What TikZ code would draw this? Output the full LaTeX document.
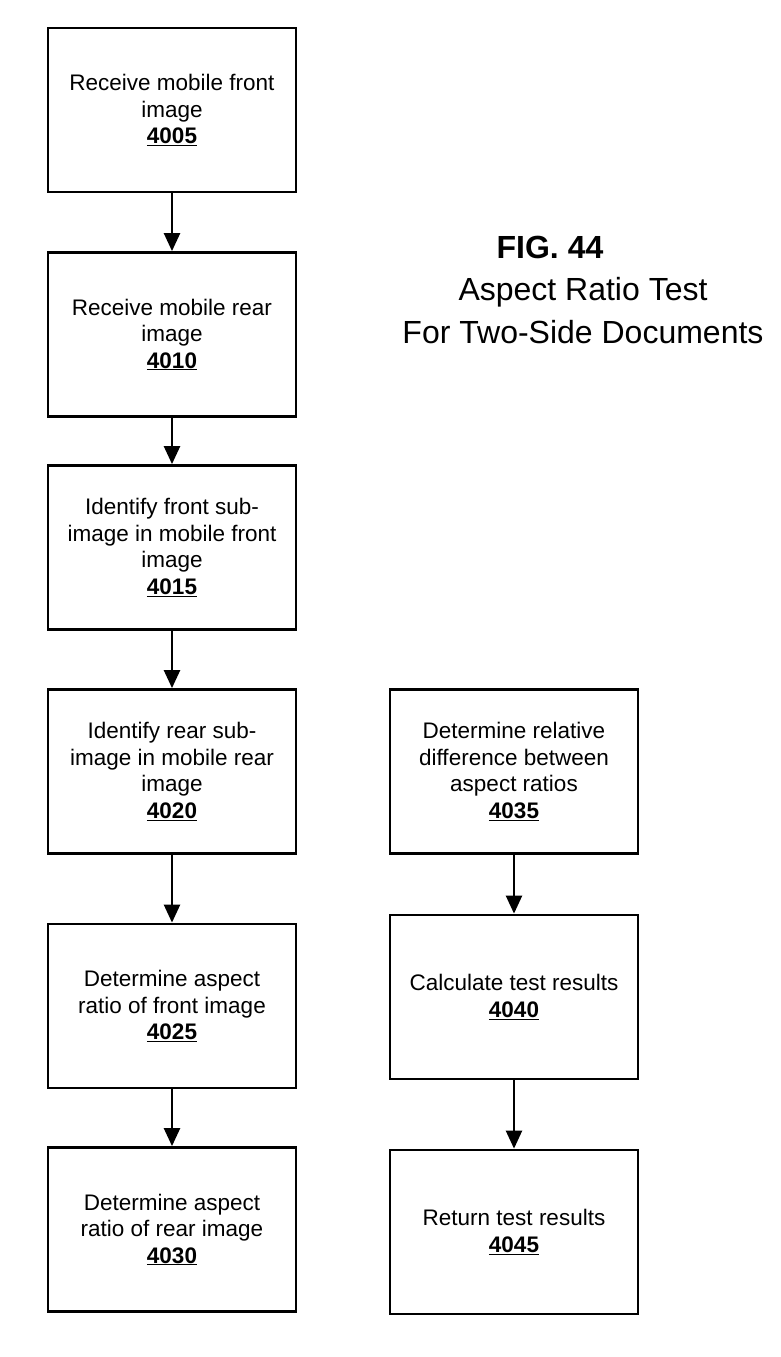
\documentclass[tikz,border=0pt]{standalone}
\usepackage{fontspec}
\setmainfont{Liberation Sans}
\usetikzlibrary{arrows.meta}

\tikzset{
  stepbox/.style={draw, line width=2.8pt, minimum width=248pt, minimum height=164pt,
    inner sep=0pt, align=center, font=\fontsize{22.5}{26.5}\selectfont},
  flowline/.style={line width=2.4pt, -{Triangle[width=16pt,length=18pt]}},
  titletext/.style={font=\fontsize{32}{36}\selectfont}
}
\newcommand{\refnum}[1]{\underline{\textbf{#1}}}

\begin{document}
\begin{tikzpicture}[x=1pt,y=-1pt]
    \useasboundingbox (0,0) rectangle (781,1357); % page size
    \node[stepbox] (front) at (172,110) {Receive mobile front\\image\\\refnum{4005}}; % left column
    \node[stepbox] (rear) at (172,334.5) {Receive mobile rear\\image\\\refnum{4010}};
    \node[stepbox] (frontsub) at (172,547.5) {Identify front sub-\\image in mobile front\\image\\\refnum{4015}};
    \node[stepbox] (rearsub) at (172,771.5) {Identify rear sub-\\image in mobile rear\\image\\\refnum{4020}};
    \node[stepbox] (frontratio) at (172,1006) {Determine aspect\\ratio of front image\\\refnum{4025}};
    \node[stepbox] (rearratio) at (172,1229.5) {Determine aspect\\ratio of rear image\\\refnum{4030}};
    \node[stepbox] (difference) at (514,771.5) {Determine relative\\difference between\\aspect ratios\\\refnum{4035}}; % right column
    \node[stepbox] (calculate) at (514,997) {Calculate test results\\\refnum{4040}};
    \node[stepbox] (result) at (514,1232) {Return test results\\\refnum{4045}};
    \node[titletext, font=\fontsize{32}{36}\selectfont\bfseries] (figlabel) at (550,247) {FIG. 44}; % title
    \node[titletext] (titleA) at (583,292) {Aspect Ratio Test};
    \node[titletext] (titleB) at (583,332) {For Two-Side Documents};
    \draw[flowline] (front) -- (rear); % arrows
    \draw[flowline] (rear) -- (frontsub);
    \draw[flowline] (frontsub) -- (rearsub);
    \draw[flowline] (rearsub) -- (frontratio);
    \draw[flowline] (frontratio) -- (rearratio);
    \draw[flowline] (difference) -- (calculate);
    \draw[flowline] (calculate) -- (result);
\end{tikzpicture}
\end{document}
